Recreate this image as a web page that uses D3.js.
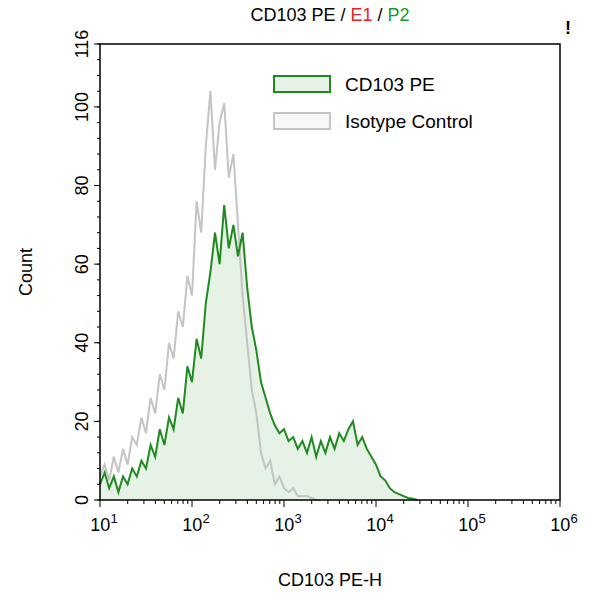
<!DOCTYPE html>
<html><head><meta charset="utf-8">
<script src="https://cdn.jsdelivr.net/npm/d3@7"></script>
<style>body{margin:0;background:#fff;font-family:Arial,"Liberation Sans",sans-serif}</style>
</head><body><div id="chart"></div>
<script>
var logStart = 1.0, logStep = 0.05;
var isotype = [6,9,5,11,7,13,9,16,14,21,17,26,22,32,28,40,36,48,44,57,52,76,68,90,104,84,96,101,82,88,70,52,40,28,22,12,8,10,4,6,3,2,3,1,1,1,0.5,0,0];
var cd103 = [4,7,3,6,2,6,4,8,6,10,8,14,11,18,14,21,18,26,22,34,30,41,36,50,58,68,60,75,64,70,62,68,54,44,38,30,26,22,19,17,18,15,16,13,15,12,16,11,15,12,16,13,17,15,18,20,14,16,13,11,9,6,5,3,2,1.5,1,0.5,0.3,0];
var yTicks = [0,20,40,60,80,100,116];
var xDecades = [1,2,3,4,5,6];

var W = 593, H = 600, m = {l:100, r:33, t:44, b:100};
var svg = d3.select('#chart').append('svg').attr('width', W).attr('height', H);
var x = d3.scaleLog().domain([10, 1e6]).range([m.l, W - m.r]);
var y = d3.scaleLinear().domain([0, 116]).range([H - m.b, m.t]);

function pts(arr) {
    return arr.map(function(v, i) { return [Math.pow(10, logStart + i * logStep), v]; });
}
var area = d3.area().x(function(d){return x(d[0]);}).y0(y(0)).y1(function(d){return y(d[1]);});
var line = d3.line().x(function(d){return x(d[0]);}).y(function(d){return y(d[1]);});

svg.append('path').attr('d', area(pts(cd103))).attr('fill', 'rgba(0,128,0,0.1)');
svg.append('path').attr('d', line(pts(isotype))).attr('fill', 'none').attr('stroke', '#c4c4c4').attr('stroke-width', 2);
svg.append('path').attr('d', line(pts(cd103))).attr('fill', 'none').attr('stroke', '#1f8a1f').attr('stroke-width', 2);

svg.append('rect').attr('x', m.l).attr('y', m.t).attr('width', W - m.l - m.r).attr('height', H - m.t - m.b)
    .attr('fill', 'none').attr('stroke', '#000').attr('stroke-width', 1.5);

// y axis
var ya = svg.append('g').attr('transform', 'translate(' + m.l + ',0)');
d3.range(0, 117, 4).forEach(function(v) {
    ya.append('line').attr('x1', -3).attr('x2', 0).attr('y1', y(v)).attr('y2', y(v)).attr('stroke', '#000');
});
yTicks.forEach(function(v) {
    ya.append('line').attr('x1', -6).attr('x2', 0).attr('y1', y(v)).attr('y2', y(v)).attr('stroke', '#000');
    ya.append('text').attr('transform', 'translate(-12,' + y(v) + ') rotate(-90)')
        .attr('text-anchor', 'middle').attr('font-size', 18).text(v);
});
svg.append('text').attr('transform', 'translate(32,272) rotate(-90)').attr('text-anchor', 'middle').attr('font-size', 18).text('Count');

// x axis
var xa = svg.append('g').attr('transform', 'translate(0,' + (H - m.b) + ')');
xDecades.forEach(function(d) {
    var v = Math.pow(10, d);
    xa.append('line').attr('x1', x(v)).attr('x2', x(v)).attr('y1', 0).attr('y2', 7).attr('stroke', '#000');
    if (d < 6) for (var k = 2; k < 10; k++) {
        xa.append('line').attr('x1', x(k * v)).attr('x2', x(k * v)).attr('y1', 0).attr('y2', 4).attr('stroke', '#000');
    }
    var t = xa.append('text').attr('x', x(v) + 4).attr('y', 31).attr('text-anchor', 'middle').attr('font-size', 18);
    t.append('tspan').text('10');
    t.append('tspan').attr('dy', -8).attr('font-size', 13).text(d);
});
svg.append('text').attr('x', 330).attr('y', 586).attr('text-anchor', 'middle').attr('font-size', 18).text('CD103 PE-H');

// title
var tt = svg.append('text').attr('x', 330).attr('y', 21).attr('text-anchor', 'middle').attr('font-size', 18);
tt.append('tspan').text('CD103 PE / ');
tt.append('tspan').attr('fill', '#e8202a').text('E1');
tt.append('tspan').text(' / ');
tt.append('tspan').attr('fill', '#1a9a2a').text('P2');
svg.append('text').attr('x', 568).attr('y', 34).attr('text-anchor', 'middle').attr('font-size', 18).attr('font-weight', 'bold').text('!');

// legend
var leg = [{n:'CD103 PE', s:'#1f8a1f', f:'rgba(0,128,0,0.1)'}, {n:'Isotype Control', s:'#c4c4c4', f:'rgba(200,200,200,0.12)'}];
leg.forEach(function(l, i) {
    var ly = 76 + i * 37;
    svg.append('rect').attr('x', 274).attr('y', ly).attr('width', 56).attr('height', 16).attr('fill', l.f).attr('stroke', l.s).attr('stroke-width', 2);
    svg.append('text').attr('x', 345).attr('y', ly + 15).attr('font-size', 19).text(l.n);
});
</script></body></html>
